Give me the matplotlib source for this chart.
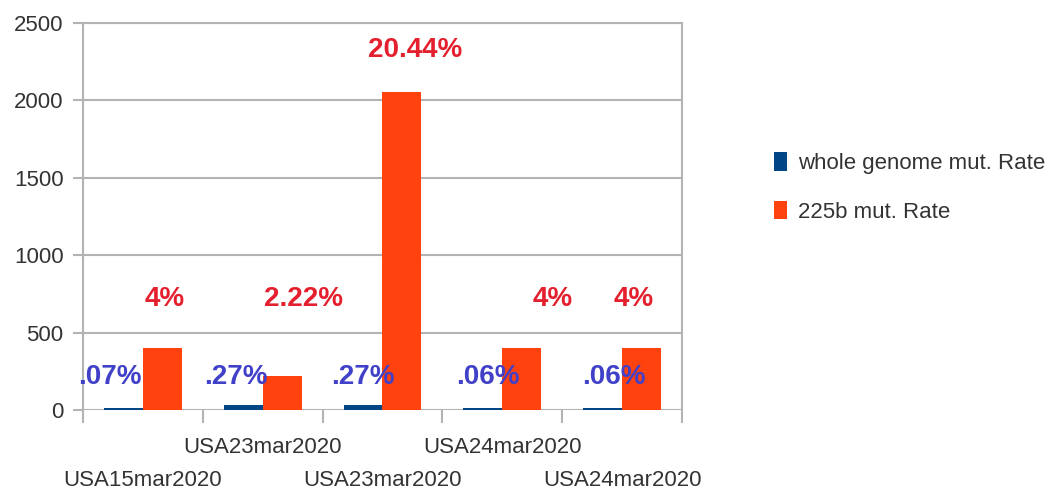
import numpy as np
from matplotlib import pyplot as plt

categories = ['USA15mar2020', 'USA23mar2020', 'USA23mar2020', 'USA24mar2020', 'USA24mar2020']
whole_genome = [16, 30, 30, 14, 14]
b225 = [400, 222, 2052, 400, 400]
whole_labels = ['.07%', '.27%', '.27%', '.06%', '.06%']
b225_labels = ['4%', '2.22%', '20.44%', '4%', '4%']

plt.rcParams['font.family'] = ['Liberation Sans', 'DejaVu Sans']

fig = plt.figure(figsize=(10.56, 4.96), dpi=100)
ax = fig.add_axes([0.0786, 0.1734, 0.5672, 0.7802])

x = np.arange(len(categories))
w = 0.325
ax.bar(x - w / 2, whole_genome, w, color='#004586', label='whole genome mut. Rate', zorder=3)
ax.bar(x + w / 2, b225, w, color='#ff420e', label='225b mut. Rate', zorder=3)

# подписи вручную, как в исходнике
blue_dx = [-0.275, -0.225, -0.167, -0.117, -0.067]
red_dx = [0.183, 0.342, 0.275, 0.417, 0.1]
red_y = [720, 720, 2325, 720, 720]
for i in range(len(categories)):
    ax.text(x[i] + blue_dx[i], 213, whole_labels[i], ha='center', va='center',
            fontsize=20, fontweight='bold', color='#4040c8', zorder=4)
    ax.text(x[i] + red_dx[i], red_y[i], b225_labels[i], ha='center', va='center',
            fontsize=20, fontweight='bold', color='#e5202e', zorder=4)

ax.set_xlim(-0.5, 4.5)
ax.set_ylim(0, 2500)
ax.set_yticks(range(0, 2501, 500))
ax.yaxis.grid(True, color='#b3b3b3', linewidth=1.5, zorder=0)
ax.tick_params(axis='y', length=7, width=1.5, color='#b3b3b3', pad=7,
               labelsize=16, labelcolor='#333333')

# подписи категорий в два ряда
ax.set_xticks(x)
ax.set_xticklabels([])
for i, c in enumerate(categories):
    yy = -0.098 if i % 2 else -0.181
    ax.text(x[i], yy, c, transform=ax.get_xaxis_transform(), ha='center',
            va='center', fontsize=16, color='#333333')
ax.set_xticks(np.arange(-0.5, 5, 1), minor=True)
ax.tick_params(axis='x', which='major', length=0)
ax.tick_params(axis='x', which='minor', length=9, width=1.5, color='#b3b3b3')

for s in ['left', 'right', 'top', 'bottom']:
    ax.spines[s].set_color('#b3b3b3')
    ax.spines[s].set_linewidth(1.5)
ax.spines['bottom'].set_visible(False)

ax.legend(loc='center left', bbox_to_anchor=(1.12, 0.575), frameon=False,
          fontsize=16, handlelength=0.6, handleheight=0.9, handletextpad=0.5,
          labelspacing=1.2, labelcolor='#333333')

fig.savefig('out.png', dpi=100)
plt.close()
